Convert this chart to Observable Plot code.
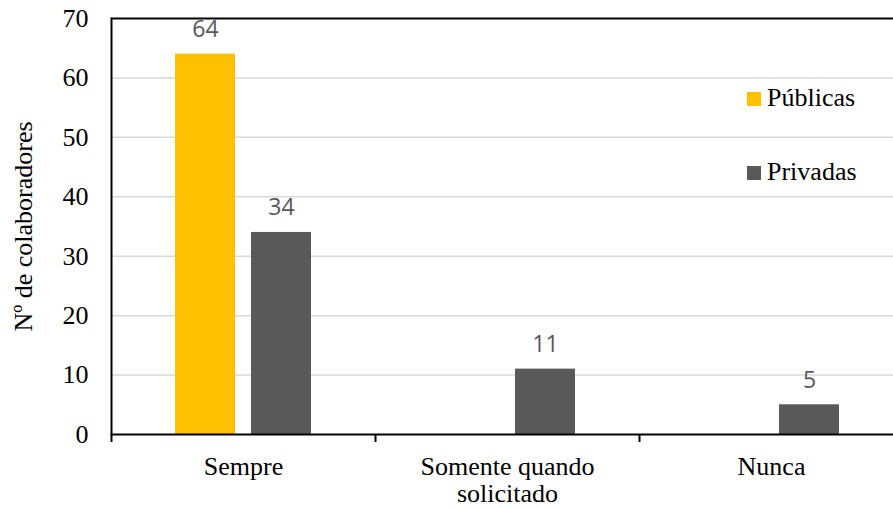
<!DOCTYPE html>
<html>
<head>
<meta charset="utf-8">
<script src="https://cdn.jsdelivr.net/npm/d3@7"></script>
<script src="https://cdn.jsdelivr.net/npm/@observablehq/plot@0.6"></script>
<style>
  html, body { margin: 0; padding: 0; background: #fff; overflow: hidden; }
  #chart { position: relative; width: 893px; height: 508px; overflow: hidden; }
  #legend {
    position: absolute; left: 747px; top: 78px;
    font-family: "Liberation Serif", "Times New Roman", serif; font-size: 26px; color: #000;
  }
  #legend .row { display: flex; align-items: center; height: 40px; margin-bottom: 34px; }
  #legend .sw { width: 14px; height: 14px; margin-right: 6px; margin-top: 2px; }
</style>
</head>
<body>
<div id="chart"></div>
<script>
// Categories, series and values
const categories = ["Sempre", "Somente quando\nsolicitado", "Nunca"];
const series = ["Públicas", "Privadas"];
const publicas = [64, null, null];
const privadas = [34, 11, 5];
const yTicks = [0, 10, 20, 30, 40, 50, 60, 70];
const gridTicks = [10, 20, 30, 40, 50, 60];
const colors = ["#FFC000", "#595959"];

const data = categories.flatMap((c, i) => [
  {category: c, series: series[0], value: publicas[i]},
  {category: c, series: series[1], value: privadas[i]}
]);

const width = 903, height = 508;
const marginLeft = 111, marginRight = 0, marginTop = 18, marginBottom = 74;
const halfBand = (width - marginLeft - marginRight) / categories.length / 2;
const serif = "'Liberation Serif', 'Times New Roman', serif";

const chart = Plot.plot({
  width, height, marginLeft, marginRight, marginTop, marginBottom,
  style: {fontFamily: serif, fontSize: "26px", color: "#000", background: "transparent", maxWidth: "none", overflow: "visible"},
  fx: {domain: categories, padding: 0, axis: null, label: null},
  x: {domain: series, paddingInner: 0.2105, paddingOuter: 0.842, axis: null},
  y: {domain: [0, 70], axis: null},
  color: {domain: series, range: colors},
  marks: [
    Plot.gridY(gridTicks, {stroke: "#d9d9d9", strokeOpacity: 1, strokeWidth: 1.5}),
    Plot.barY(data, {fx: "category", x: "series", y: "value", fill: "series"}),
    Plot.ruleY([0], {stroke: "#000", strokeWidth: 2}),
    Plot.ruleY([70], {stroke: "#000", strokeWidth: 2}),
    Plot.axisY({ticks: yTicks, tickSize: 0, tickPadding: 23, label: "Nº de colaboradores",
      labelAnchor: "center", labelOffset: 98, labelArrow: false, fontSize: 26}),
    Plot.frame({anchor: "left", facetAnchor: "left", stroke: "#000", strokeWidth: 2}),
    Plot.axisFx({anchor: "bottom", tickSize: 8, tickFormat: () => "", label: null, dx: -halfBand, stroke: "#000", strokeWidth: 2}),
    Plot.axisFx({anchor: "bottom", tickSize: 0, tickPadding: 21, label: null, lineHeight: 1.04, fontSize: 26}),
    Plot.text(data, {fx: "category", x: "series", y: "value", text: "value",
      lineAnchor: "bottom", dy: -17, fill: "#595959", fontSize: 23,
      fontFamily: "'Liberation Sans Narrow', 'Open Sans', sans-serif"})
  ]
});

const root = document.getElementById("chart");
root.appendChild(chart);

// Legend drawn over the plot area
const legend = document.createElement("div");
legend.id = "legend";
series.forEach((s, i) => {
  const row = document.createElement("div");
  row.className = "row";
  const sw = document.createElement("span");
  sw.className = "sw";
  sw.style.background = colors[i];
  const label = document.createElement("span");
  label.textContent = s;
  row.appendChild(sw);
  row.appendChild(label);
  legend.appendChild(row);
});
root.appendChild(legend);
</script>
</body>
</html>
